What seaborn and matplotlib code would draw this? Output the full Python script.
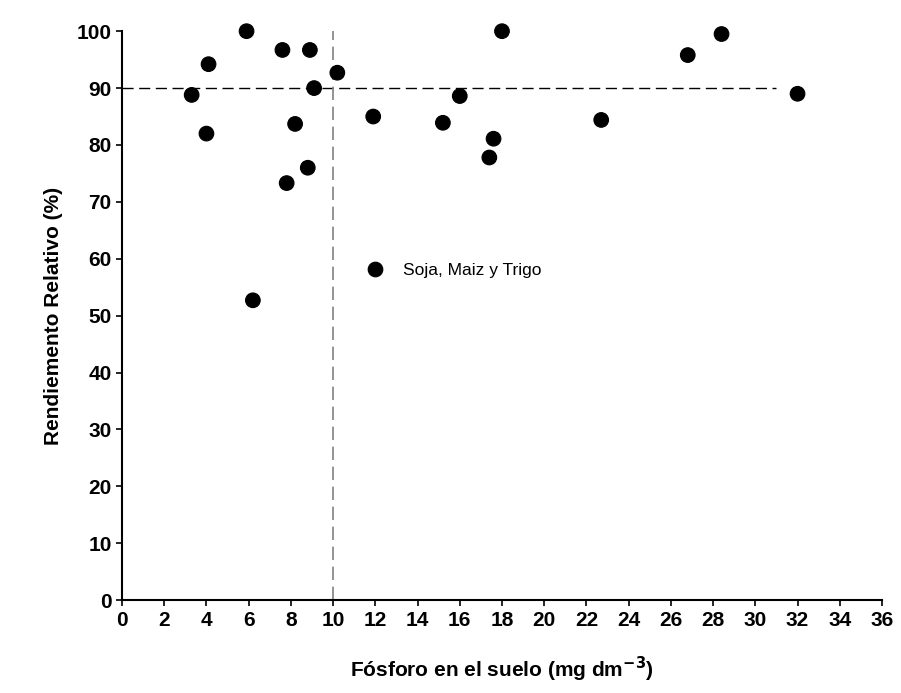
import matplotlib
matplotlib.use("Agg")
import matplotlib.pyplot as plt
import seaborn as sns
import pandas as pd

sns.set_style("ticks")
plt.rcParams['font.family'] = ['Liberation Sans', 'DejaVu Sans']
plt.rcParams['text.color'] = 'black'
plt.rcParams['axes.labelcolor'] = 'black'
plt.rcParams['xtick.color'] = 'black'
plt.rcParams['ytick.color'] = 'black'
plt.rcParams['axes.edgecolor'] = 'black'

fosforo = [3.3, 4.1, 4.0, 5.9, 6.2, 7.6, 8.9, 9.1, 8.2, 8.8, 7.8, 10.2, 11.9,
           15.2, 16.0, 18.0, 17.6, 17.4, 22.7, 26.8, 28.4, 32.0]
rendimiento = [88.8, 94.2, 82.0, 100.0, 52.7, 96.7, 96.7, 90.0, 83.7, 76.0, 73.3,
               92.7, 85.0, 83.9, 88.6, 100.0, 81.1, 77.8, 84.4, 95.8, 99.5, 89.0]
xticks = list(range(0, 37, 2))
yticks = list(range(0, 101, 10))

df = pd.DataFrame({"x": fosforo, "y": rendimiento, "g": "Soja, Maiz y Trigo"})

fig = plt.figure(figsize=(9.01, 6.93), dpi=100)
ax = fig.add_axes([0.1354, 0.134, 0.8435, 0.821])
sns.scatterplot(data=df, x="x", y="y", hue="g", palette=["black"], s=110,
                edgecolor="black", ax=ax, clip_on=False, zorder=3)
ax.plot([0, 31], [90, 90], color="black", lw=1, dashes=(8, 4))
ax.axvline(10, color="gray", lw=1.2, dashes=(8, 4))
ax.set_xlim(0, 36)
ax.set_ylim(0, 100)
ax.set_xticks(xticks)
ax.set_yticks(yticks)
ax.tick_params(labelsize=15, direction="out", length=4, width=1.2)
for t in ax.get_xticklabels() + ax.get_yticklabels():
    t.set_fontweight("bold")
for s in ["top", "right"]:
    ax.spines[s].set_visible(False)
for s in ["left", "bottom"]:
    ax.spines[s].set_linewidth(1.5)
ax.set_xlabel("Fósforo en el suelo (mg dm$^{\\mathbf{-3}}$)", fontsize=15, fontweight="bold", labelpad=18)
ax.set_ylabel("Rendiemento Relativo (%)", fontsize=15, fontweight="bold", labelpad=10)
leg = ax.legend(loc="upper left", bbox_to_anchor=(0.29, 0.62), frameon=False, fontsize=12.5,
                markerscale=1.0, handletextpad=0.6)
fig.savefig("out.png", dpi=100)
